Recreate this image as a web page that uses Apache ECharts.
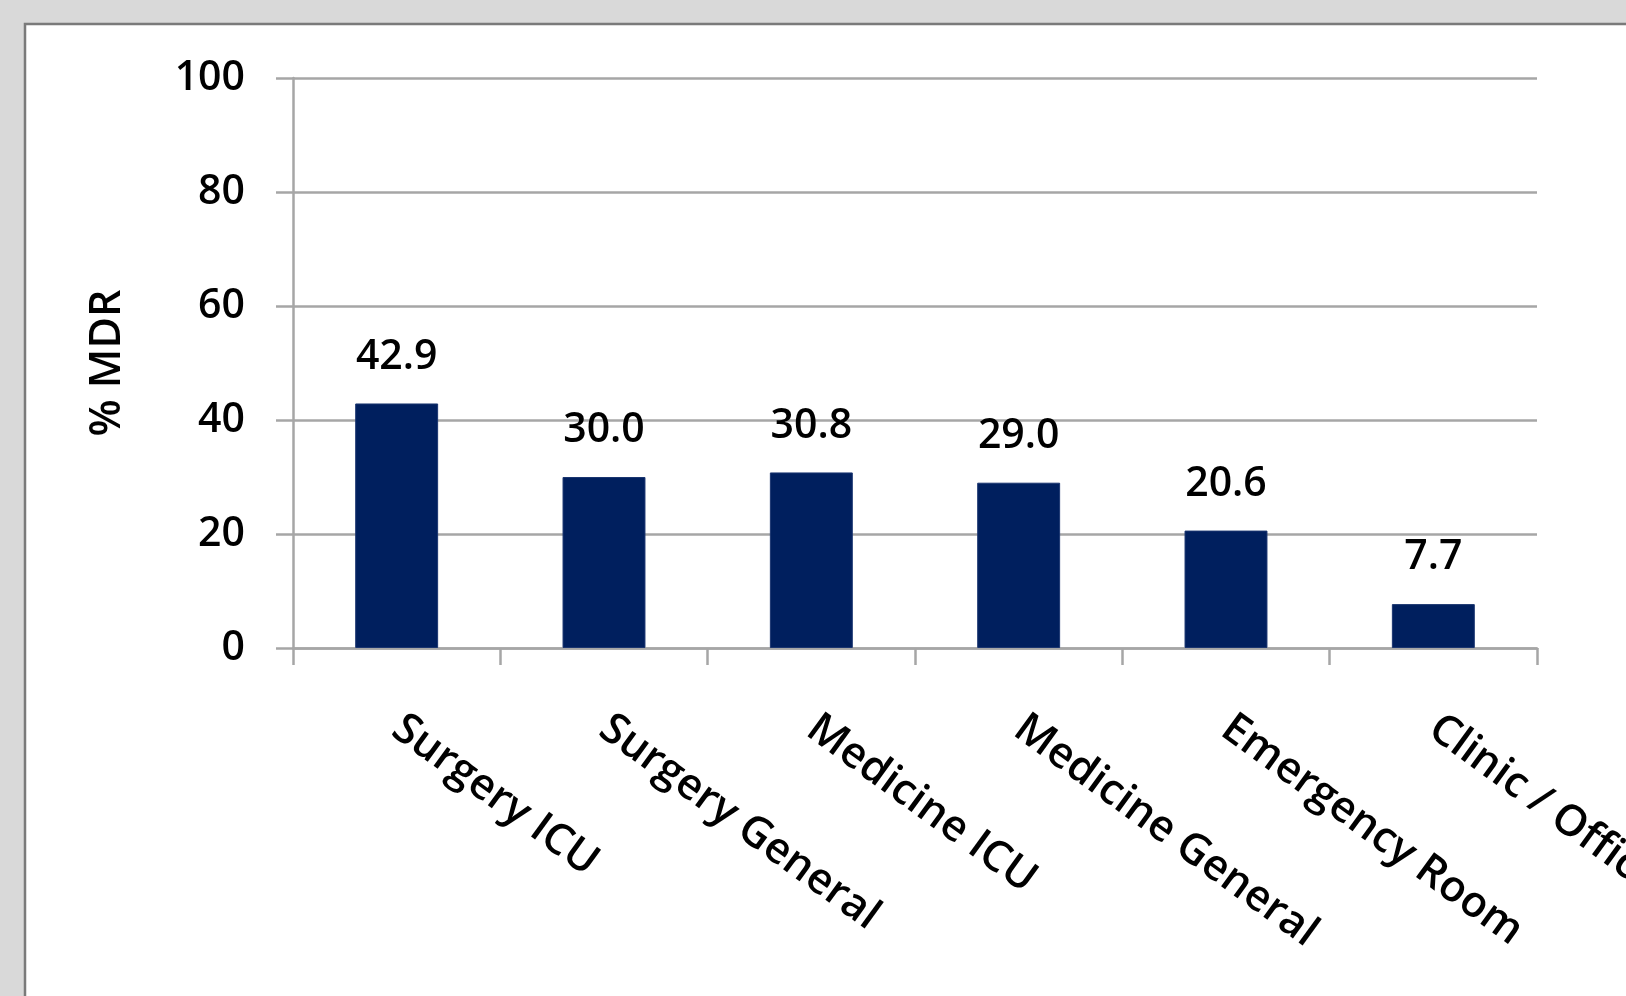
<!DOCTYPE html>
<html>
<head>
<meta charset="utf-8">
<title>% MDR by location</title>
<script src="https://cdn.jsdelivr.net/npm/echarts@6/dist/echarts.min.js"></script>
<style>
  html, body { margin: 0; padding: 0; background: #d9d9d9; overflow: hidden; }
  #chart { width: 1626px; height: 996px; }
</style>
</head>
<body>
<div id="chart"></div>
<script>
// Hospital locations and the share of multidrug-resistant isolates at each
const categories = ['Surgery ICU', 'Surgery General', 'Medicine ICU', 'Medicine General', 'Emergency Room', 'Clinic / Office'];
const mdrPercent = [42.9, 30.0, 30.8, 29.0, 20.6, 7.7];
const yTicks = [0, 20, 40, 60, 80, 100];

const FONT = '"Open Sans", "Noto Sans", sans-serif';
const FONT_SIZE = 41;
const CATEGORY_FONT_SIZE = 43;
const FONT_WEIGHT = 600;
const AXIS_GRAY = '#a6a6a6';

const chart = echarts.init(document.getElementById('chart'), null, { renderer: 'canvas' });

chart.setOption({
  backgroundColor: '#d9d9d9',
  animation: false,
  textStyle: { fontFamily: FONT },
  graphic: [{
    type: 'rect',
    z: -10,
    shape: { x: 25, y: 24, width: 1620, height: 1000 },
    style: { fill: '#ffffff', stroke: '#7a7a7a', lineWidth: 2.5 },
    silent: true
  }],
  grid: {
    left: 293, top: 78, right: 89, bottom: 348,
    containLabel: false,
    outerBoundsMode: 'none'
  },
  xAxis: {
    type: 'category',
    data: categories,
    boundaryGap: true,
    axisLine: { show: true, lineStyle: { color: AXIS_GRAY, width: 2.5 } },
    axisTick: { show: true, alignWithLabel: false, length: 17, lineStyle: { color: AXIS_GRAY, width: 2.5 } },
    axisLabel: {
      interval: 0,
      rotate: -36,
      margin: 76,
      color: '#000000',
      fontSize: CATEGORY_FONT_SIZE,
      fontWeight: FONT_WEIGHT,
      fontFamily: FONT,
      hideOverlap: false
    }
  },
  yAxis: {
    type: 'value',
    min: yTicks[0],
    max: yTicks[yTicks.length - 1],
    interval: yTicks[1] - yTicks[0],
    name: '% MDR',
    nameLocation: 'middle',
    nameRotate: 90,
    nameGap: 164,
    nameTextStyle: { color: '#000000', fontSize: CATEGORY_FONT_SIZE, fontWeight: FONT_WEIGHT, fontFamily: FONT },
    axisLine: { show: true, lineStyle: { color: AXIS_GRAY, width: 2.5 } },
    axisTick: { show: true, length: 17, lineStyle: { color: AXIS_GRAY, width: 2.5 } },
    axisLabel: {
      margin: 48,
      color: '#000000',
      fontSize: FONT_SIZE,
      fontWeight: FONT_WEIGHT,
      fontFamily: FONT,
      formatter: v => (yTicks.includes(v) ? String(v) : '')
    },
    splitLine: { show: true, lineStyle: { color: AXIS_GRAY, width: 2.5 } }
  },
  series: [{
    type: 'bar',
    data: mdrPercent,
    barWidth: '40%',
    itemStyle: { color: '#001f5e', borderColor: '#1a3570', borderWidth: 1 },
    label: {
      show: true,
      position: 'top',
      distance: 26,
      color: '#000000',
      fontSize: FONT_SIZE,
      fontWeight: FONT_WEIGHT,
      fontFamily: FONT,
      formatter: p => p.value.toFixed(1)
    }
  }]
});
</script>
</body>
</html>
